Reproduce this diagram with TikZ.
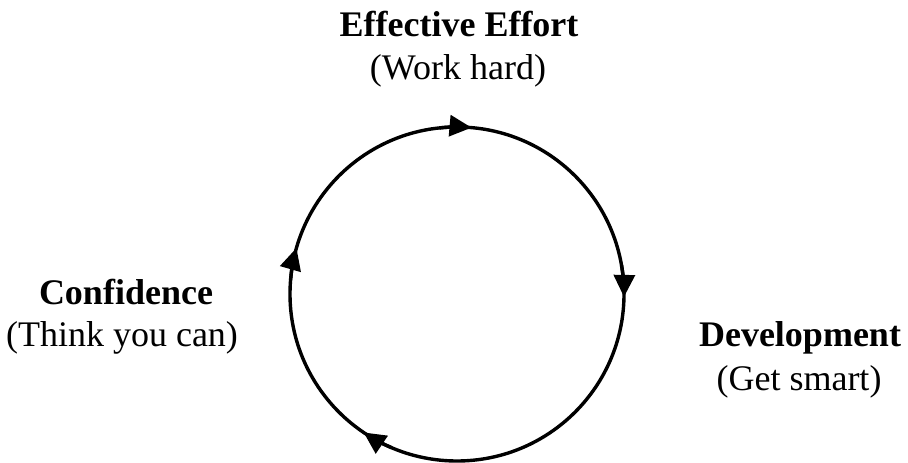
\documentclass[tikz,border=0pt]{standalone}
\usepackage{fontspec}
\setmainfont{Liberation Serif}
\usetikzlibrary{arrows.meta}
\begin{document}
\begin{tikzpicture}[x=1pt,y=1pt,
  cycle/.style={line width=3.4pt, draw=black},
  tipmark/.style={line width=3.4pt, draw=black, -{Triangle[length=22pt,width=21pt]}},
  heading/.style={anchor=base, inner sep=0pt, font=\fontsize{36}{40}\selectfont\bfseries},
  gloss/.style={anchor=base, inner sep=0pt, font=\fontsize{36}{40}\selectfont}]
\useasboundingbox (0,0) rectangle (908,463);

% the cycle
\coordinate (hub) at (457,169);
\draw[cycle] (hub) circle[radius=167];

% clockwise arrowheads
\draw[tipmark] ([shift={(96:167)}]hub) arc[start angle=96, end angle=85, radius=167];
\draw[tipmark] ([shift={(10:167)}]hub) arc[start angle=10, end angle=-1, radius=167];
\draw[tipmark] ([shift={(247:167)}]hub) arc[start angle=247, end angle=236, radius=167];
\draw[tipmark] ([shift={(175:167)}]hub) arc[start angle=175, end angle=164, radius=167];

% stage labels
\node[heading] (effort)    at (459,426) {Effective Effort};
\node[gloss]   (effortsub) at (458,383) {(Work hard)};
\node[heading] (conf)      at (126,158) {Confidence};
\node[gloss]   (confsub)   at (122,116) {(Think you can)};
\node[heading] (dev)       at (800,116) {Development};
\node[gloss]   (devsub)    at (799,72)  {(Get smart)};
\end{tikzpicture}
\end{document}
